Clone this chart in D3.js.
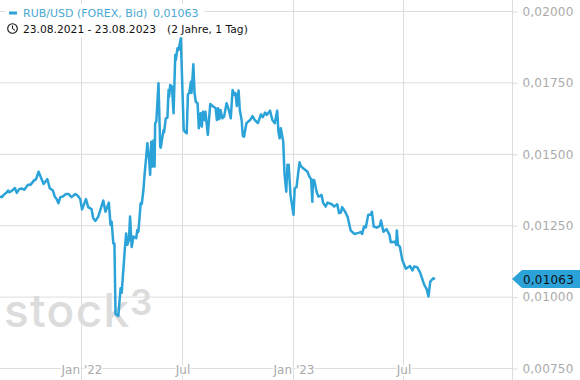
<!DOCTYPE html>
<html>
<head>
<meta charset="utf-8">
<script src="https://cdn.jsdelivr.net/npm/d3@7"></script>
<style>
    html, body { margin: 0; padding: 0; background: #fff; }
    svg { display: block; font-family: "DejaVu Sans", sans-serif; }
</style>
</head>
<body>
<div id="chart"></div>
<script>
// days since 23.08.2021
var dayOffsets = [0,3,6,11,13,15,19,24,27,31,35,39,45,49,54,58,62,65,70,76,80,85,88,91,94,97,101,106,110,115,121,125,129,
    132,139,143,149,152,156,161,170,174,180,183,185,188,190,192,197,201,203,209,211,213,216,218,221,224,229,231,233,237,239,242,244,247,249,252,254,256,258,260,262,263,265,269,272,273,278,279,282,285,287,288,290,293,296,299,300,303,305,309,
    314,316,319,321,323,326,327,330,332,334,337,339,342,344,346,348,350,354,358,363,367,369,371,373,375,378,381,385,388,392,395,398,400,402,405,407,410,412,414,418,424,428,432,437,442,445,449,452,457,461,465,469,471,473,475,479,481,484,486,488,491,496,
    498,501,504,506,508,512,519,522,525,527,528,530,534,537,540,542,545,549,552,559,563,568,571,574,576,581,585,590,596,603,607,609,612,615,619,623,625,628,633,638,640,644,649,654,656,663,665,666,668,671,675,
    681,688,692,695,700,705,712,716,719,722,727,730];

var rubUsd = [0.01352,0.01350,0.01358,0.01367,0.01373,0.01367,0.01372,0.01382,0.01365,0.01378,0.01380,0.01376,0.01393,0.01393,0.01407,0.01413,0.01439,0.01423,0.01396,0.01413,0.01381,0.01373,0.01352,0.01343,0.01329,0.01350,0.01352,0.01361,0.01361,0.01350,0.01361,0.01355,0.01343,
    0.01307,0.01343,0.01315,0.01308,0.01276,0.01267,0.01282,0.01338,0.01299,0.01331,0.01253,0.01264,0.01188,0.01188,0.00941,0.00934,0.01031,0.01015,0.01177,0.01223,0.01183,0.01200,0.01282,0.01175,0.01212,0.01206,0.01235,0.01229,0.01329,0.01326,0.01375,0.01428,0.01492,0.01539,0.01486,0.01428,0.01544,0.01457,0.01548,0.01457,0.01609,0.01614,0.01749,0.01527,0.01523,0.01585,0.01577,0.01626,0.01628,0.01725,0.01702,0.01743,0.01737,0.01644,0.01848,0.01830,0.01871,0.01865,0.01906,
    0.01585,0.01579,0.01574,0.01710,0.01714,0.01754,0.01715,0.01815,0.01714,0.01684,0.01679,0.01591,0.01644,0.01597,0.01649,0.01620,0.01649,0.01568,0.01676,0.01667,0.01661,0.01620,0.01661,0.01623,0.01655,0.01626,0.01632,0.01679,0.01661,0.01626,0.01725,0.01708,0.01714,0.01669,0.01723,0.01655,0.01620,0.01564,0.01562,0.01609,0.01620,0.01634,0.01620,0.01609,0.01640,0.01630,0.01646,0.01638,0.01653,0.01620,0.01609,0.01653,0.01579,0.01556,0.01591,0.01544,0.01434,0.01369,0.01463,0.01463,0.01358,0.01288,
    0.01381,0.01385,0.01439,0.01472,0.01459,0.01451,0.01439,0.01422,0.01413,0.01334,0.01410,0.01410,0.01369,0.01352,0.01354,0.01358,0.01329,0.01317,0.01331,0.01325,0.01317,0.01325,0.01294,0.01296,0.01315,0.01299,0.01281,0.01234,0.01221,0.01225,0.01228,0.01221,0.01247,0.01244,0.01288,0.01288,0.01299,0.01247,0.01243,0.01249,0.01268,0.01229,0.01238,0.01218,0.01192,0.01194,0.01183,0.01233,0.01183,0.01177,0.01130,
    0.01099,0.01109,0.01093,0.01107,0.01105,0.01086,0.01043,0.01028,0.01002,0.01054,0.01066,0.01063];

var yTicks = [0.02, 0.0175, 0.015, 0.0125, 0.01, 0.0075];
var xTickDates = ["2022-01-01", "2022-07-01", "2023-01-01", "2023-07-01"];
var xTickLabels = ["Jan '22", "Jul", "Jan '23", "Jul"];
var lastValue = 0.01063;

var width = 580, height = 380, blue = "#2ba3d9", grid = "#dddddd", tickText = "#aaaaaa";
var parse = d3.utcParse("%Y-%m-%d");
var start = parse("2021-08-23"), end = parse("2023-08-23");
var tickDates = xTickDates.map(parse);
var fmt = d3.formatLocale({decimal: ",", thousands: ".", grouping: [3], currency: ["", ""]}).format(".5f");

var svg = d3.select("#chart").append("svg")
    .attr("width", width)
    .attr("height", height);

// sessions are not evenly spread in the source, so the time axis is piecewise
var x = d3.scaleUtc()
    .domain([start].concat(tickDates, [end]))
    .range([0, 81.5, 182.5, 293.5, 403.5, 435]);
var y = d3.scaleLinear()
    .domain([0.0075, 0.02])
    .range([368.5, 11.5]);

var gridG = svg.append("g");
gridG.selectAll("line.h").data(yTicks).enter().append("line")
    .attr("class", "h")
    .attr("x1", 0).attr("x2", 512)
    .attr("y1", d => y(d)).attr("y2", d => y(d))
    .attr("stroke", grid);
gridG.selectAll("line.v").data(tickDates).enter().append("line")
    .attr("class", "v")
    .attr("x1", d => x(d)).attr("x2", d => x(d))
    .attr("y1", 0).attr("y2", height)
    .attr("stroke", grid);

// watermark
var mark = svg.append("g").attr("fill", "#dcdcdc").attr("font-family", "Inter, sans-serif").attr("font-weight", 500);
mark.append("text").attr("x", 4).attr("y", 327).attr("font-size", 46).attr("letter-spacing", 1.3).text("stock");
mark.append("text").attr("x", 130).attr("y", 315).attr("font-size", 35).attr("font-weight", 600).text("3");

// y axis on the right
var yAxis = svg.append("g")
    .attr("transform", "translate(512.5,0)")
    .call(d3.axisRight(y).tickValues(yTicks).tickSize(5).tickPadding(5).tickFormat(fmt));
yAxis.select(".domain").attr("stroke", grid).attr("d", "M0,0V" + height);
yAxis.selectAll(".tick line").attr("stroke", grid);
yAxis.selectAll(".tick text")
    .attr("fill", tickText)
    .style("font-family", "'DejaVu Sans', sans-serif")
    .style("font-size", "12px")
    .style("letter-spacing", "0.2px");

// x axis labels
var xAxis = svg.append("g")
    .attr("transform", "translate(0,362)")
    .call(d3.axisBottom(x).tickValues(tickDates).tickSize(0).tickPadding(3)
        .tickFormat((d, i) => xTickLabels[i]));
xAxis.select(".domain").remove();
xAxis.selectAll(".tick text")
    .attr("fill", tickText)
    .attr("stroke", "#fff")
    .attr("stroke-width", 3)
    .attr("paint-order", "stroke")
    .style("font-family", "'DejaVu Sans', sans-serif")
    .style("font-size", "12px");

// price line
var points = dayOffsets.map((d, i) => ({date: d3.utcDay.offset(start, d), value: rubUsd[i]}));
svg.append("path")
    .datum(points)
    .attr("fill", "none")
    .attr("stroke", blue)
    .attr("stroke-width", 2.5)
    .attr("stroke-linejoin", "round")
    .attr("d", d3.line().x(d => x(d.date)).y(d => y(d.value)));

// last value tag
var tagY = y(lastValue);
svg.append("path")
    .attr("fill", blue)
    .attr("d", "M512," + tagY + "L522," + (tagY - 9) + "H580V" + (tagY + 9) + "H522Z");
svg.append("text")
    .attr("x", 523).attr("y", tagY + 4.5)
    .attr("fill", "#111")
    .style("font-size", "12px")
    .style("letter-spacing", "0.2px")
    .text(fmt(lastValue));

// header
svg.append("rect").attr("x", 5).attr("y", 4).attr("width", 199).attr("height", 17).attr("fill", "#fff");
svg.append("rect").attr("x", 0).attr("y", 20).attr("width", 252).attr("height", 17).attr("fill", "#fff");
svg.append("rect").attr("x", 9).attr("y", 11.5).attr("width", 8).attr("height", 3).attr("fill", blue);
svg.append("text")
    .attr("x", 23).attr("y", 17)
    .attr("fill", "#4aa8d2")
    .style("font-size", "11px")
    .text("RUB/USD (FOREX, Bid)");
svg.append("text")
    .attr("x", 153).attr("y", 17)
    .attr("fill", "#4aa8d2")
    .style("font-size", "11px")
    .text(fmt(lastValue));
svg.append("circle")
    .attr("cx", 12.5).attr("cy", 28.5).attr("r", 4.8)
    .attr("fill", "none").attr("stroke", "#111").attr("stroke-width", 1.1);
svg.append("path")
    .attr("d", "M12.5,25.5V28.7L15,30.3")
    .attr("fill", "none").attr("stroke", "#111").attr("stroke-width", 1);
svg.append("text")
    .attr("x", 23).attr("y", 33)
    .attr("fill", "#111")
    .style("font-size", "10.7px")
    .text("23.08.2021 - 23.08.2023");
svg.append("text")
    .attr("x", 167).attr("y", 33)
    .attr("fill", "#111")
    .style("font-size", "10.7px")
    .text("(2 Jahre, 1 Tag)");
</script>
</body>
</html>
